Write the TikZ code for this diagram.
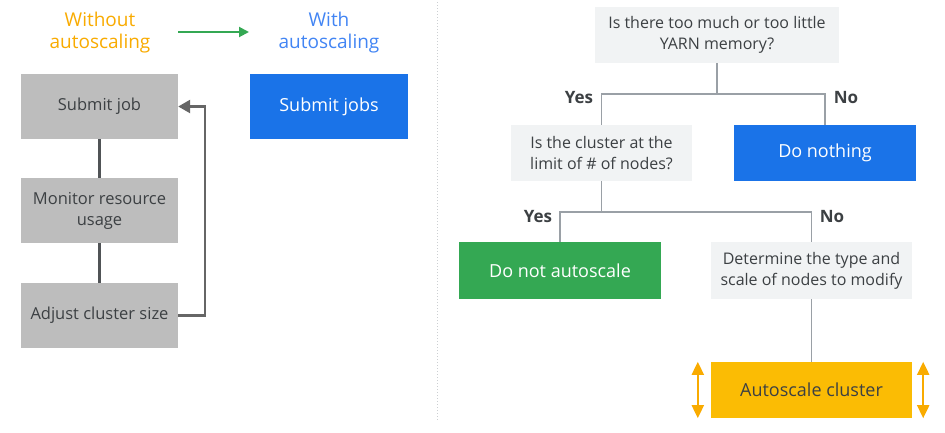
\documentclass[tikz,border=0pt]{standalone}
\usepackage{fontspec}
\setmainfont{Open Sans}
\usetikzlibrary{arrows.meta}
\definecolor{txt}{HTML}{3C4043}
\definecolor{gbox}{HTML}{BDBDBD}
\definecolor{lbox}{HTML}{F1F3F4}
\definecolor{gblue}{HTML}{1A73E8}
\definecolor{lblue}{HTML}{4285F4}
\definecolor{ggreen}{HTML}{34A853}
\definecolor{gyellow}{HTML}{FBBC04}
\definecolor{gorange}{HTML}{F9AB00}
\definecolor{lgray}{HTML}{9AA0A6}
\begin{document}
\begin{tikzpicture}[x=1pt,y=-1pt,
  box/.style={rectangle,inner sep=0pt,align=center,font=\fontsize{16}{21}\selectfont,text=txt},
  cbox/.style={box,font=\fontsize{18}{22}\selectfont},
  graybox/.style={box,font=\fontsize{16.5}{21}\selectfont,fill=gbox,minimum width=157,minimum height=65},
  lightbox/.style={box,fill=lbox},
  title/.style={align=center,font=\fontsize{19}{22}\selectfont},
  lbl/.style={font=\fontsize{17}{18}\selectfont\bfseries,text=txt},
  rline/.style={draw=lgray,line width=1.5pt},
  dbl/.style={draw=gorange,line width=2pt,{Triangle[length=13pt,width=12pt]}-{Triangle[length=13pt,width=12pt]}},
]
\useasboundingbox (0,0) rectangle (945,432);
\fill[white] (0,0) rectangle (945,432);

% divider
\coordinate (d1) at (437,2);
\coordinate (d2) at (437,420);
\draw[draw=lgray!50,line width=1pt,dotted] (d1) -- (d2);

% left side titles
\node[title,text=gorange] (without) at (100,33) {Without\\autoscaling};
\node[title,text=lblue] (with) at (329,33) {With\\autoscaling};
\coordinate (a1) at (178,32);
\coordinate (a2) at (249,32);
\draw[draw=ggreen,line width=2pt,-{Triangle[length=10pt,width=10pt]}] (a1) -- (a2);

% left boxes
\node[graybox] (submit) at (99.5,106.5) {Submit job};
\node[graybox] (monitor) at (99.5,210.5) {Monitor resource\\usage};
\node[graybox] (adjust) at (99.5,315.5) {Adjust cluster size};
\draw[draw=txt!90,line width=3pt] (submit) -- (monitor);
\draw[draw=txt!90,line width=3pt] (monitor) -- (adjust);
\draw[draw=gray!80!black,line width=2.5pt,-{Triangle[length=12pt,width=13pt]}]
  (adjust.east) -- ++(27,0) |- (submit.east);

\node[cbox,fill=gblue,text=white,minimum width=158,minimum height=65] (jobs) at (329,106.5) {Submit jobs};

% right flowchart
\node[lightbox,minimum width=244,minimum height=56] (top) at (717,35) {Is there too much or too little\\YARN memory?};
\node[lightbox,minimum width=181,minimum height=56] (limit) at (601.5,153) {Is the cluster at the\\limit of \# of nodes?};
\node[cbox,fill=gblue,text=white,minimum width=182,minimum height=56] (nothing) at (825,153) {Do nothing};
\node[cbox,fill=ggreen,text=white,minimum width=202,minimum height=57] (noauto) at (560,270.5) {Do not autoscale};
\node[lightbox,minimum width=201,minimum height=57] (determine) at (811.5,270.5) {Determine the type and\\scale of nodes to modify};
\node[cbox,fill=gyellow,minimum width=201,minimum height=56] (auto) at (811.5,390) {Autoscale cluster};

\coordinate (j1) at (717,94);
\coordinate (j2) at (601.5,212);
\draw[rline] (top.south) -- (j1);
\draw[rline] (limit.north) |- (j1) -| (nothing.north);
\draw[rline] (limit.south) -- (j2);
\draw[rline] (noauto.north) |- (j2) -| (determine.north);
\draw[rline] (determine.south) -- (auto.north);

\node[lbl] (yes1) at (579,98) {Yes};
\node[lbl] (no1) at (846,98) {No};
\node[lbl] (yes2) at (538,217) {Yes};
\node[lbl] (no2) at (832,217) {No};

% double arrows
\draw[dbl] ([xshift=-13]auto.north west) -- ([xshift=-13]auto.south west);
\draw[dbl] ([xshift=11]auto.north east) -- ([xshift=11]auto.south east);
\end{tikzpicture}
\end{document}
